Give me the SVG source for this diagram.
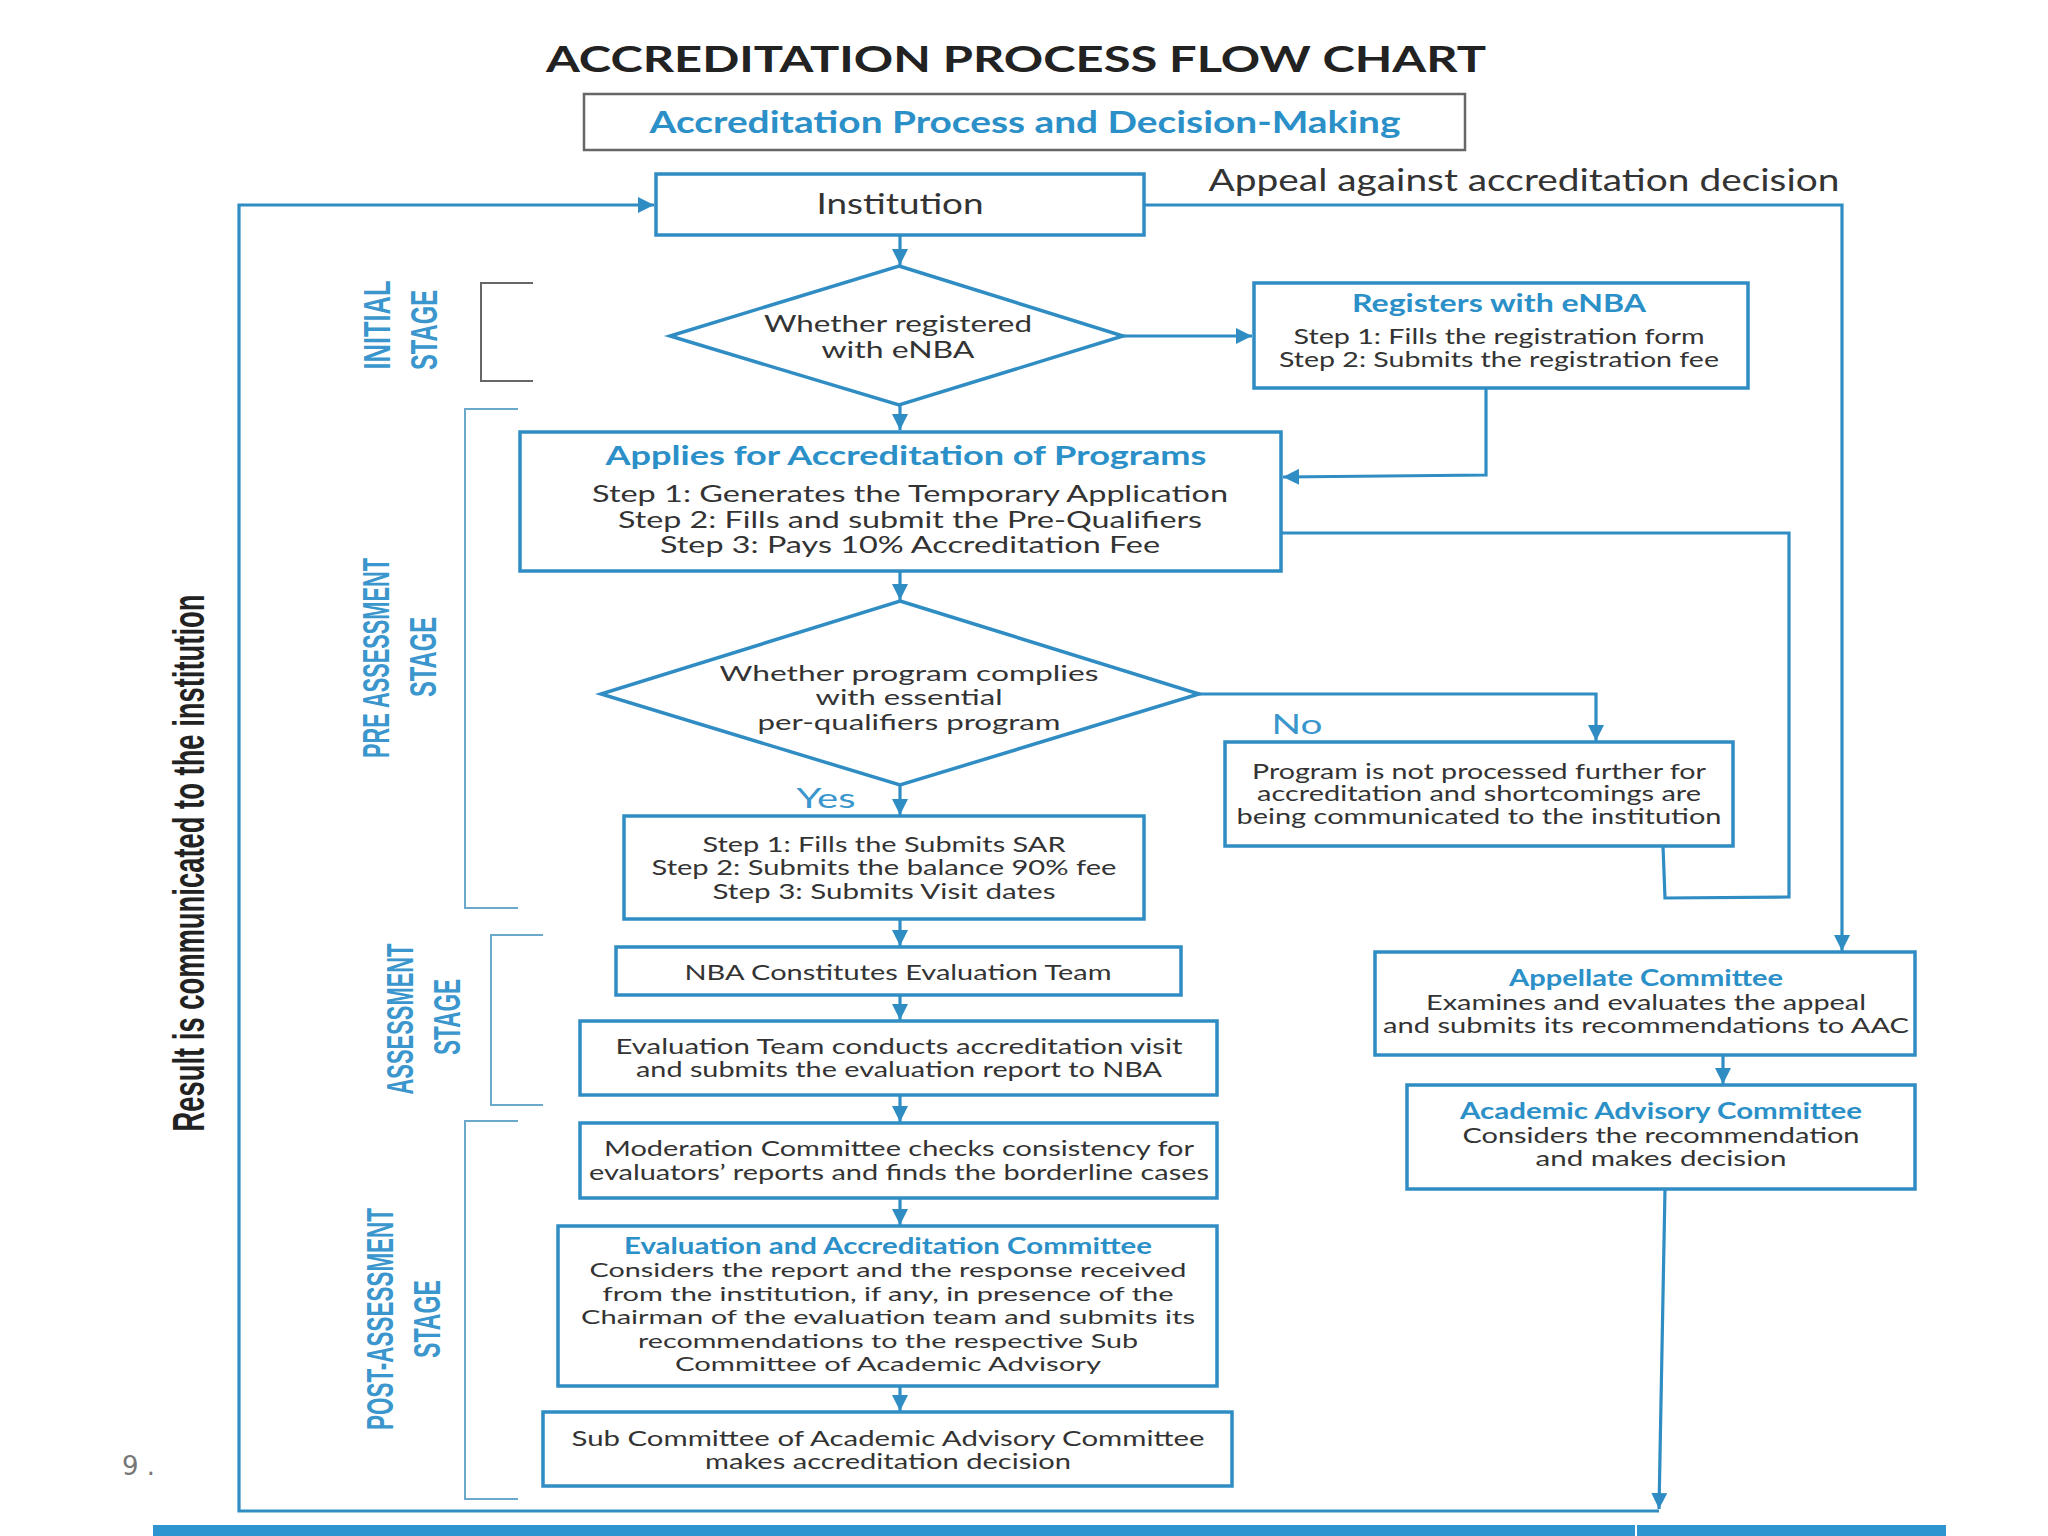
<svg xmlns="http://www.w3.org/2000/svg" width="2048" height="1536" viewBox="0 0 2048 1536">
<style>
.bx{fill:#fff;stroke:#2F8DC4;stroke-width:3.5}
.cn{fill:none;stroke:#2F8DC4;stroke-width:3.2}
.br{fill:none;stroke:#6AA9CC;stroke-width:2}
.t{font-family:Lato,"Open Sans","Liberation Sans",sans-serif;font-size:21px;fill:#333;text-anchor:middle}
.h{font-family:Lato,"Open Sans","Liberation Sans",sans-serif;font-size:24px;font-weight:bold;fill:#2B90C8;text-anchor:middle}
.st{font-family:"Liberation Sans Narrow","Liberation Sans",sans-serif;font-size:36px;font-weight:bold;fill:#3A96CC;text-anchor:middle}
</style>
<defs>
<marker id="ah" viewBox="0 0 10 10" refX="10" refY="5" markerWidth="16" markerHeight="16" orient="auto" markerUnits="userSpaceOnUse"><path d="M0,0 L10,5 L0,10 z" fill="#2F8DC4"/></marker>
</defs>
<rect width="2048" height="1536" fill="#fff"/>

<g id="title">
<text x="1016" y="72" textLength="940" lengthAdjust="spacingAndGlyphs" style="font-family:Lato,'Liberation Sans',sans-serif;font-size:36px;font-weight:bold;fill:#222;text-anchor:middle">ACCREDITATION PROCESS FLOW CHART</text>
</g>
<g id="subtitle">
<rect x="584" y="94" width="881" height="56" fill="#fff" stroke="#666" stroke-width="2.5"/>
<text x="1025" y="133" textLength="751" lengthAdjust="spacingAndGlyphs" style="font-family:Lato,'Liberation Sans',sans-serif;font-size:30px;font-weight:bold;fill:#2B90C8;text-anchor:middle">Accreditation Process and Decision-Making</text>
</g>

<g id="connectors">
<path class="cn" d="M900,235 L900,265" marker-end="url(#ah)"/>
<path class="cn" d="M1123,336 L1252,336" marker-end="url(#ah)"/>
<path class="cn" d="M900,405 L900,430" marker-end="url(#ah)"/>
<path class="cn" d="M1486,388 L1486,475 L1283,477" marker-end="url(#ah)"/>
<path class="cn" d="M1281,533 L1789,533 L1789,897 L1665,898 L1663,846"/>
<path class="cn" d="M900,571 L900,600" marker-end="url(#ah)"/>
<path class="cn" d="M1199,694 L1596,694 L1596,741" marker-end="url(#ah)"/>
<path class="cn" d="M900,785 L900,815" marker-end="url(#ah)"/>
<path class="cn" d="M900,919 L900,946" marker-end="url(#ah)"/>
<path class="cn" d="M900,995 L900,1020" marker-end="url(#ah)"/>
<path class="cn" d="M900,1095 L900,1122" marker-end="url(#ah)"/>
<path class="cn" d="M900,1198 L900,1225" marker-end="url(#ah)"/>
<path class="cn" d="M900,1386 L900,1411" marker-end="url(#ah)"/>
<path class="cn" d="M1144,205 L1842,205 L1842,951" marker-end="url(#ah)"/>
<path class="cn" d="M1723,1055 L1723,1084" marker-end="url(#ah)"/>
<path class="cn" d="M1665,1189 L1659,1509" marker-end="url(#ah)"/>
<path class="cn" d="M1659,1511 L239,1511 L239,205 L654,205" marker-end="url(#ah)"/>
<text x="1524" y="191" textLength="631" lengthAdjust="spacingAndGlyphs" style="font-family:Lato,'Liberation Sans',sans-serif;font-size:30px;fill:#333;text-anchor:middle">Appeal against accreditation decision</text>
<text x="1297" y="734" textLength="51" lengthAdjust="spacingAndGlyphs" style="font-family:Lato,'Liberation Sans',sans-serif;font-size:27px;fill:#3A96CC;text-anchor:middle">No</text>
<text x="826" y="808" textLength="59" lengthAdjust="spacingAndGlyphs" style="font-family:Lato,'Liberation Sans',sans-serif;font-size:27px;fill:#3A96CC;text-anchor:middle">Yes</text>
</g>

<g id="brackets">
<path d="M533,283 L481,283 L481,381 L533,381" fill="none" stroke="#666" stroke-width="2"/>
<path class="br" d="M518,409 L465,409 L465,908 L518,908"/>
<path class="br" d="M543,935 L491,935 L491,1105 L543,1105"/>
<path class="br" d="M518,1121 L465,1121 L465,1499 L518,1499"/>
</g>

<g id="stages">
<text class="st" transform="rotate(-90 390 325)" x="390" y="325" textLength="89" lengthAdjust="spacingAndGlyphs">INITIAL</text>
<text class="st" transform="rotate(-90 437 330)" x="437" y="330" textLength="80" lengthAdjust="spacingAndGlyphs">STAGE</text>
<text class="st" transform="rotate(-90 389 658)" x="389" y="658" textLength="200" lengthAdjust="spacingAndGlyphs">PRE ASSESSMENT</text>
<text class="st" transform="rotate(-90 436 657)" x="436" y="657" textLength="80" lengthAdjust="spacingAndGlyphs">STAGE</text>
<text class="st" transform="rotate(-90 413 1019)" x="413" y="1019" textLength="151" lengthAdjust="spacingAndGlyphs">ASSESSMENT</text>
<text class="st" transform="rotate(-90 460 1017)" x="460" y="1017" textLength="76" lengthAdjust="spacingAndGlyphs">STAGE</text>
<text class="st" transform="rotate(-90 393 1319)" x="393" y="1319" textLength="222" lengthAdjust="spacingAndGlyphs">POST-ASSESSMENT</text>
<text class="st" transform="rotate(-90 440 1319)" x="440" y="1319" textLength="78" lengthAdjust="spacingAndGlyphs">STAGE</text>
<text transform="rotate(-90 204 863)" x="204" y="863" textLength="537" lengthAdjust="spacingAndGlyphs" style="font-family:'Liberation Sans Narrow','Liberation Sans',sans-serif;font-size:44px;font-weight:bold;fill:#222;text-anchor:middle">Result is communicated to the institution</text>
</g>

<g id="institution">
<rect class="bx" x="656" y="174" width="488" height="61"/>
<text class="t" x="900" y="214" textLength="167" lengthAdjust="spacingAndGlyphs" style="font-size:28px">Institution</text>
</g>
<g id="registered-decision">
<polygon class="bx" points="899,266 1123,336 899,405 670,336"/>
<text class="t" x="898" y="332" textLength="268" lengthAdjust="spacingAndGlyphs" style="font-size:24px">Whether registered</text>
<text class="t" x="898" y="358" textLength="153" lengthAdjust="spacingAndGlyphs" style="font-size:24px">with eNBA</text>
</g>
<g id="registers">
<rect class="bx" x="1254" y="283" width="494" height="105"/>
<text class="h" x="1499" y="312" textLength="294" lengthAdjust="spacingAndGlyphs">Registers with eNBA</text>
<text class="t" x="1499" y="344" textLength="411" lengthAdjust="spacingAndGlyphs">Step 1: Fills the registration form</text>
<text class="t" x="1499" y="367" textLength="440" lengthAdjust="spacingAndGlyphs">Step 2: Submits the registration fee</text>
</g>
<g id="applies">
<rect class="bx" x="520" y="432" width="761" height="139"/>
<text class="h" x="906" y="465" textLength="601" lengthAdjust="spacingAndGlyphs" style="font-size:27px">Applies for Accreditation of Programs</text>
<text class="t" x="910" y="502" textLength="636" lengthAdjust="spacingAndGlyphs" style="font-size:23px">Step 1: Generates the Temporary Application</text>
<text class="t" x="910" y="528" textLength="584" lengthAdjust="spacingAndGlyphs" style="font-size:23px">Step 2: Fills and submit the Pre-Qualifiers</text>
<text class="t" x="910" y="553" textLength="500" lengthAdjust="spacingAndGlyphs" style="font-size:23px">Step 3: Pays 10% Accreditation Fee</text>
</g>
<g id="complies-decision">
<polygon class="bx" points="900,601 1199,694 900,785 601,694"/>
<text class="t" x="909" y="681" textLength="379" lengthAdjust="spacingAndGlyphs" style="font-size:22px">Whether program complies</text>
<text class="t" x="909" y="705" textLength="187" lengthAdjust="spacingAndGlyphs" style="font-size:22px">with essential</text>
<text class="t" x="909" y="730" textLength="303" lengthAdjust="spacingAndGlyphs" style="font-size:22px">per-qualifiers program</text>
</g>
<g id="not-processed">
<rect class="bx" x="1225" y="742" width="508" height="104"/>
<text class="t" x="1479" y="779" textLength="454" lengthAdjust="spacingAndGlyphs">Program is not processed further for</text>
<text class="t" x="1479" y="801" textLength="444" lengthAdjust="spacingAndGlyphs">accreditation and shortcomings are</text>
<text class="t" x="1479" y="824" textLength="485" lengthAdjust="spacingAndGlyphs">being communicated to the institution</text>
</g>
<g id="submits-sar">
<rect class="bx" x="624" y="816" width="520" height="103"/>
<text class="t" x="884" y="852" textLength="363" lengthAdjust="spacingAndGlyphs">Step 1: Fills the Submits SAR</text>
<text class="t" x="884" y="875" textLength="465" lengthAdjust="spacingAndGlyphs">Step 2: Submits the balance 90% fee</text>
<text class="t" x="884" y="899" textLength="343" lengthAdjust="spacingAndGlyphs">Step 3: Submits Visit dates</text>
</g>
<g id="nba-team">
<rect class="bx" x="616" y="947" width="565" height="48"/>
<text class="t" x="898" y="980" textLength="427" lengthAdjust="spacingAndGlyphs">NBA Constitutes Evaluation Team</text>
</g>
<g id="eval-visit">
<rect class="bx" x="580" y="1021" width="637" height="74"/>
<text class="t" x="899" y="1054" textLength="567" lengthAdjust="spacingAndGlyphs">Evaluation Team conducts accreditation visit</text>
<text class="t" x="899" y="1077" textLength="526" lengthAdjust="spacingAndGlyphs">and submits the evaluation report to NBA</text>
</g>
<g id="moderation">
<rect class="bx" x="580" y="1123" width="637" height="75"/>
<text class="t" x="899" y="1156" textLength="590" lengthAdjust="spacingAndGlyphs">Moderation Committee checks consistency for</text>
<text class="t" x="899" y="1180" textLength="620" lengthAdjust="spacingAndGlyphs">evaluators’ reports and finds the borderline cases</text>
</g>
<g id="eac">
<rect class="bx" x="558" y="1226" width="659" height="160"/>
<text class="h" x="888" y="1254" textLength="528" lengthAdjust="spacingAndGlyphs" style="font-size:22px">Evaluation and Accreditation Committee</text>
<text class="t" x="888" y="1277" textLength="597" lengthAdjust="spacingAndGlyphs" style="font-size:20px">Considers the report and the response received</text>
<text class="t" x="888" y="1301" textLength="571" lengthAdjust="spacingAndGlyphs" style="font-size:20px">from the institution, if any, in presence of the</text>
<text class="t" x="888" y="1324" textLength="614" lengthAdjust="spacingAndGlyphs" style="font-size:20px">Chairman of the evaluation team and submits its</text>
<text class="t" x="888" y="1348" textLength="500" lengthAdjust="spacingAndGlyphs" style="font-size:20px">recommendations to the respective Sub</text>
<text class="t" x="888" y="1371" textLength="426" lengthAdjust="spacingAndGlyphs" style="font-size:20px">Committee of Academic Advisory</text>
</g>
<g id="sub-committee">
<rect class="bx" x="543" y="1412" width="689" height="74"/>
<text class="t" x="888" y="1446" textLength="633" lengthAdjust="spacingAndGlyphs">Sub Committee of Academic Advisory Committee</text>
<text class="t" x="888" y="1469" textLength="366" lengthAdjust="spacingAndGlyphs">makes accreditation decision</text>
</g>
<g id="appellate">
<rect class="bx" x="1375" y="952" width="540" height="103"/>
<text class="h" x="1646" y="986" textLength="274" lengthAdjust="spacingAndGlyphs" style="font-size:22px">Appellate Committee</text>
<text class="t" x="1646" y="1010" textLength="440" lengthAdjust="spacingAndGlyphs">Examines and evaluates the appeal</text>
<text class="t" x="1646" y="1033" textLength="526" lengthAdjust="spacingAndGlyphs">and submits its recommendations to AAC</text>
</g>
<g id="aac">
<rect class="bx" x="1407" y="1085" width="508" height="104"/>
<text class="h" x="1661" y="1119" textLength="402" lengthAdjust="spacingAndGlyphs" style="font-size:22px">Academic Advisory Committee</text>
<text class="t" x="1661" y="1143" textLength="397" lengthAdjust="spacingAndGlyphs">Considers the recommendation</text>
<text class="t" x="1661" y="1166" textLength="251" lengthAdjust="spacingAndGlyphs">and makes decision</text>
</g>

<g id="footer">
<rect x="153" y="1525" width="1793" height="11" fill="#2F95D0"/>
<line x1="1636" y1="1525" x2="1636" y2="1536" stroke="#fff" stroke-width="2"/>
<text x="122" y="1475" style="font-family:'DejaVu Sans',sans-serif;font-size:26px;fill:#777">9 .</text>
</g>
</svg>
